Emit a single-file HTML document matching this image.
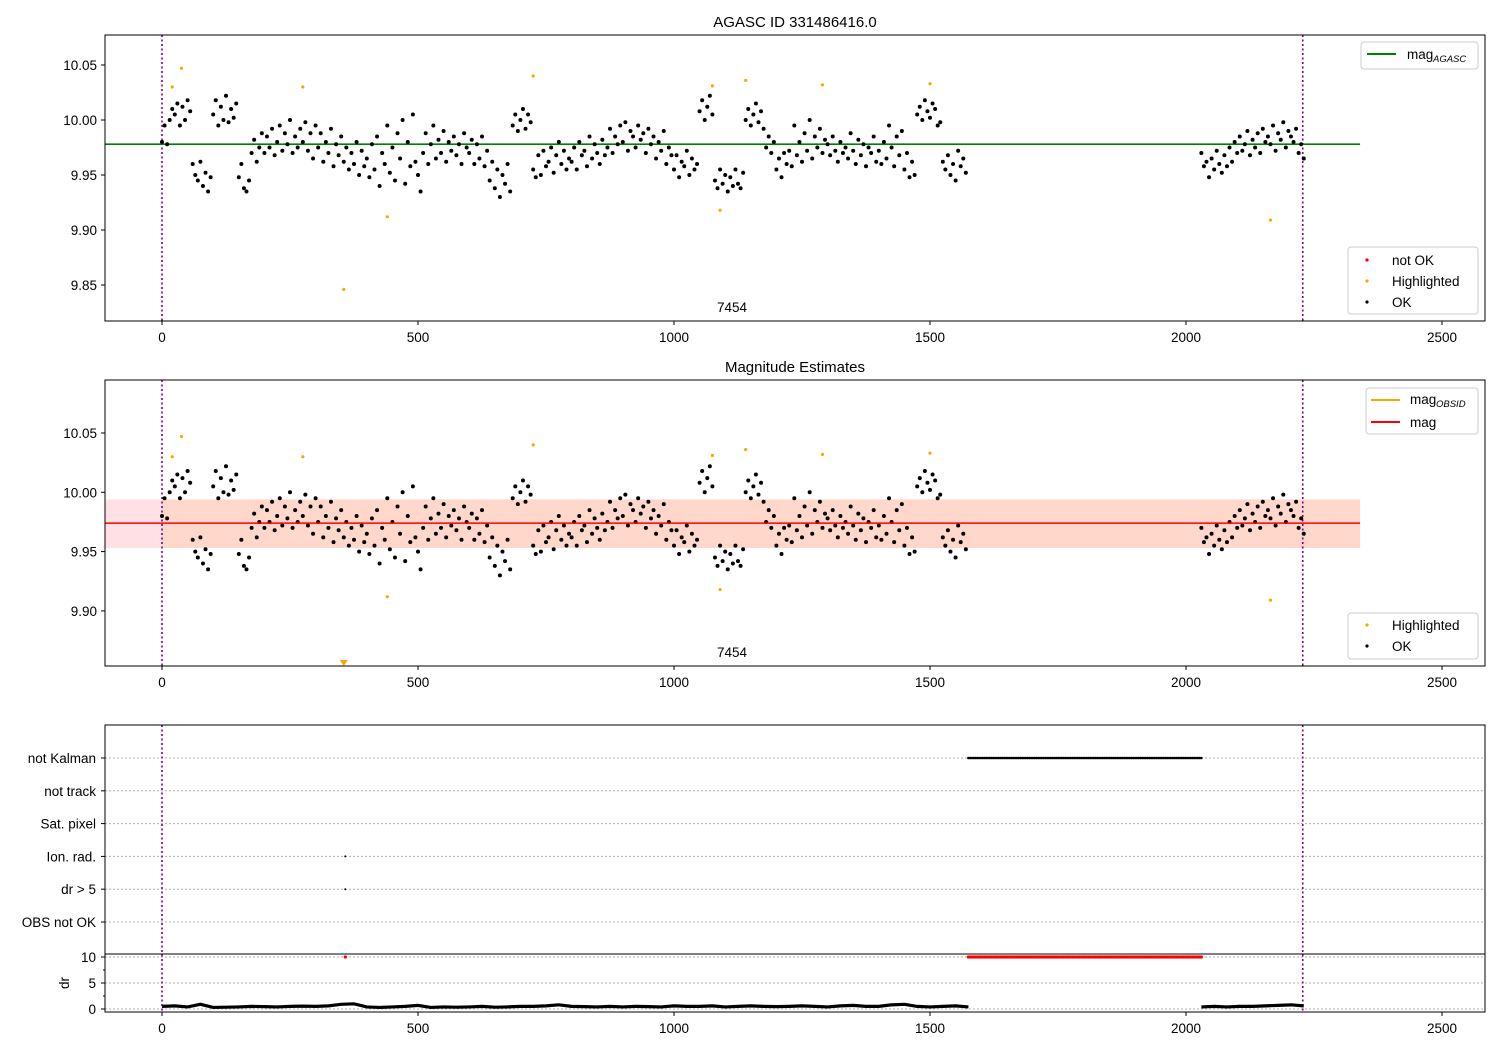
<!DOCTYPE html>
<html><head><meta charset="utf-8">
<style>
html,body{margin:0;padding:0;background:#fff;}
svg{display:block;font-family:"Liberation Sans","DejaVu Sans",sans-serif;}
</style></head>
<body>
<svg id="chart" width="1500" height="1050" viewBox="0 0 1500 1050" xmlns="http://www.w3.org/2000/svg">
<rect width="1500" height="1050" fill="#fff"/>
<g id="g1"></g>
<g id="g2"></g>
<g id="g3"></g>
</svg>
<script>
// ---- data ----
const segStarts = [0, 2030];
const segStep = 5;
const magMilliSeg1 = [
80,95,78,100,110,105,115,95,112,100,118,108,60,50,45,62,40,52,35,48,
105,118,95,112,100,122,98,110,102,115,48,60,38,35,45,70,82,62,75,88,
70,85,75,92,68,80,95,72,88,78,100,70,85,75,92,80,98,72,88,65,
95,75,88,62,80,70,92,58,78,68,85,62,75,55,70,60,80,50,72,58,
65,48,78,55,85,40,70,60,95,52,75,45,88,65,100,42,80,58,105,62,
50,35,70,88,60,78,95,65,82,70,90,62,80,72,85,68,78,60,88,75,
70,82,60,78,65,85,58,72,45,62,38,55,30,50,42,60,35,95,105,90,
100,110,92,105,98,55,48,68,50,72,58,62,75,52,68,80,60,72,55,65,
62,75,55,80,68,72,58,85,65,78,70,60,82,68,75,92,70,85,78,95,
80,98,72,90,85,75,95,82,88,70,92,78,85,65,80,72,90,60,75,68,
55,68,48,62,58,72,50,65,55,60,108,118,100,112,122,105,45,38,55,42,
50,35,48,40,55,42,38,52,100,110,95,105,115,98,108,92,75,85,70,80,
55,65,48,70,60,72,58,95,68,80,62,88,72,100,65,85,75,92,70,82,
78,68,85,72,62,80,70,75,65,88,72,60,82,68,78,58,75,70,85,62,
72,60,80,65,95,75,58,85,68,90,55,70,48,62,50,105,112,100,118,108,
102,115,110,95,98,62,55,68,50,60,45,72,58,65,52];
const magMilliSeg2 = [70,58,62,48,65,55,72,60,52,68,58,75,62,80,70,85,72,78,90,68,82,75,88,70,92,80,85,78,95,72,88,82,98,75,90,85,80,92,70,78,65];
const hlX = [20,38,275,355,440,725,1075,1090,1140,1290,1500,2165];
const hlMag = [10.030,10.047,10.030,9.846,9.912,10.040,10.031,9.918,10.036,10.032,10.033,9.909];
const magAgasc = 9.978;
const magObs = 9.974;
const magBandLo = 9.953, magBandHi = 9.994;
const drStep = 25;
const drSeg1 = [0.5,0.6,0.4,0.9,0.3,0.35,0.4,0.5,0.45,0.4,0.5,0.55,0.5,0.6,0.9,1.0,0.4,0.3,0.4,0.5,0.7,0.3,0.4,0.35,0.4,0.5,0.35,0.4,0.5,0.5,0.6,0.8,0.5,0.45,0.4,0.5,0.4,0.5,0.45,0.4,0.6,0.5,0.5,0.6,0.4,0.5,0.6,0.5,0.45,0.5,0.6,0.5,0.4,0.6,0.7,0.5,0.5,0.8,0.9,0.5,0.4,0.5,0.6,0.4];
const drSeg2 = [0.4,0.5,0.4,0.5,0.5,0.6,0.7,0.8,0.6];
const notKalmanRange = [1575, 2030];
const flagStep = 3.5;
const ionRadX = [358];
const drOver5X = [358];
const rowLabels = ["not Kalman","not track","Sat. pixel","Ion. rad.","dr > 5","OBS not OK"];
const xTicks = [0,500,1000,1500,2000,2500];
const yTicks1 = [9.85,9.90,9.95,10.00,10.05];
const yTicks2 = [9.90,9.95,10.00,10.05];
const drTicks = [0,5,10];
const obsEnd = 2228;
const lineEnd = 2340;

// ---- axes ----
const L=105,R=1485;
const X = x => 162 + x*0.512;
const P1 = {top:35,bot:321};
const Y1 = v => 120 - (v-10)*1100;
const P2 = {top:380,bot:666};
const Y2 = v => 492.3 - (v-10)*1186;
const P3 = {top:725,bot:954};
const YR = i => 758 + i*32.8;
const PD = {top:954,bot:1012};
const YD = v => 1009 - v*5.2;
const FS = 13.5;
const PR = 2;

const NS="http://www.w3.org/2000/svg";
function mk(parent, tag, attrs, name, text){
  const e=document.createElementNS(NS,tag);
  for(const k in attrs) e.setAttribute(k,attrs[k]);
  
  
  if(text!==undefined) e.textContent=text;
  parent.appendChild(e); return e;
}
const allMag=[];
magMilliSeg1.forEach((m,i)=>allMag.push([segStarts[0]+i*segStep, 9.9+m/1000]));
magMilliSeg2.forEach((m,i)=>allMag.push([segStarts[1]+i*segStep, 9.9+m/1000]));

function clip(g,id,p){
  const cp=mk(g,'clipPath',{id:id},'clip');
  mk(cp,'rect',{x:L,y:p.top,width:R-L,height:p.bot-p.top},'clip-rect');
}
function xAxis(g,p){
  xTicks.forEach(t=>{
    mk(g,'line',{x1:X(t),x2:X(t),y1:p.bot,y2:p.bot+4,stroke:'#000'},'x-tick');
    mk(g,'text',{x:X(t),y:p.bot+21,'font-size':FS,'text-anchor':'middle'},'x-tick-label',String(t));
  });
}
function vlines(g,p){
  [0,obsEnd].forEach(v=>mk(g,'line',{x1:X(v),x2:X(v),y1:p.top,y2:p.bot,stroke:'#800080','stroke-width':1.6,'stroke-dasharray':'2,2.5'},'obs-boundary-line'));
}
function frame(g,p){ mk(g,'rect',{x:L,y:p.top,width:R-L,height:p.bot-p.top,fill:'none',stroke:'#000','stroke-width':1},'axes-frame'); }

// ---- panel 1 ----
const g1=document.getElementById('g1');
clip(g1,'c1',P1);
mk(g1,'text',{x:795,y:27,'font-size':15,'text-anchor':'middle'},'chart-title','AGASC ID 331486416.0');
yTicks1.forEach(t=>{
  mk(g1,'line',{x1:L-4,x2:L,y1:Y1(t),y2:Y1(t),stroke:'#000'},'y-tick');
  mk(g1,'text',{x:L-8,y:Y1(t)+5,'font-size':FS,'text-anchor':'end'},'y-tick-label',t.toFixed(2));
});
const d1=mk(g1,'g',{'clip-path':'url(#c1)'},'plot-area');
vlines(d1,P1);
mk(d1,'line',{x1:L,x2:X(lineEnd),y1:Y1(magAgasc),y2:Y1(magAgasc),stroke:'#008000','stroke-width':1.6},'mag-agasc-line');
allMag.forEach(([x,v])=>mk(d1,'circle',{cx:X(x),cy:Y1(v),r:PR,fill:'#000'},'ok-point'));
hlX.forEach((x,i)=>mk(d1,'circle',{cx:X(x),cy:Y1(hlMag[i]),r:1.6,fill:'orange'},'highlighted-point'));
mk(g1,'text',{x:732,y:312,'font-size':FS,'text-anchor':'middle'},'obsid-label','7454');
frame(g1,P1); xAxis(g1,P1);
mk(g1,'rect',{x:1361,y:42,width:117,height:27,rx:3,fill:'#fff',stroke:'#ccc'},'legend-box');
mk(g1,'line',{x1:1367,x2:1396,y1:54,y2:54,stroke:'#008000','stroke-width':2},'legend-agasc-line');
mk(g1,'text',{x:1407,y:59,'font-size':FS},'legend-agasc-label','mag');
mk(g1,'text',{x:1433,y:62,'font-size':9.5,'font-style':'italic'},'legend-agasc-sub','AGASC');
mk(g1,'rect',{x:1348,y:247,width:130,height:67,rx:3,fill:'#fff',stroke:'#ccc'},'legend-box');
[['red','not OK',260],['orange','Highlighted',281],['#000','OK',302]].forEach(([c,t,y])=>{
  mk(g1,'circle',{cx:1367,cy:y,r:1.6,fill:c},'legend-marker');
  mk(g1,'text',{x:1392,y:y+5,'font-size':FS},'legend-label',t);
});

// ---- panel 2 ----
const g2=document.getElementById('g2');
clip(g2,'c2',P2);
mk(g2,'text',{x:795,y:372,'font-size':15,'text-anchor':'middle'},'panel-title','Magnitude Estimates');
yTicks2.forEach(t=>{
  mk(g2,'line',{x1:L-4,x2:L,y1:Y2(t),y2:Y2(t),stroke:'#000'},'y-tick');
  mk(g2,'text',{x:L-8,y:Y2(t)+5,'font-size':FS,'text-anchor':'end'},'y-tick-label',t.toFixed(2));
});
const d2=mk(g2,'g',{'clip-path':'url(#c2)'},'plot-area');
mk(d2,'rect',{x:L,y:Y2(magBandHi),width:X(lineEnd)-L,height:Y2(magBandLo)-Y2(magBandHi),fill:'#ffe0e4'},'mag-band-red');
mk(d2,'rect',{x:X(0),y:Y2(magBandHi),width:X(lineEnd)-X(0),height:Y2(magBandLo)-Y2(magBandHi),fill:'#ffd6c4',opacity:0.8},'mag-band-orange');
vlines(d2,P2);
allMag.forEach(([x,v])=>mk(d2,'circle',{cx:X(x),cy:Y2(v),r:PR,fill:'#000'},'ok-point'));
hlX.forEach((x,i)=>{
  if(Y2(hlMag[i])>P2.bot){
    mk(d2,'path',{d:`M${X(x)-4},${P2.bot-6} L${X(x)+4},${P2.bot-6} L${X(x)},${P2.bot} Z`,fill:'orange'},'highlighted-offscale-marker');
  } else mk(d2,'circle',{cx:X(x),cy:Y2(hlMag[i]),r:1.6,fill:'orange'},'highlighted-point');
});
mk(d2,'line',{x1:L,x2:X(lineEnd),y1:Y2(magObs),y2:Y2(magObs),stroke:'red','stroke-width':1.6},'mag-line');
mk(g2,'text',{x:732,y:657,'font-size':FS,'text-anchor':'middle'},'obsid-label','7454');
frame(g2,P2); xAxis(g2,P2);
mk(g2,'rect',{x:1366,y:388,width:112,height:46,rx:3,fill:'#fff',stroke:'#ccc'},'legend-box');
mk(g2,'line',{x1:1371,x2:1400,y1:400,y2:400,stroke:'orange','stroke-width':2},'legend-obsid-line');
mk(g2,'text',{x:1410,y:404,'font-size':FS},'legend-obsid-label','mag');
mk(g2,'text',{x:1436,y:407,'font-size':9.5,'font-style':'italic'},'legend-obsid-sub','OBSID');
mk(g2,'line',{x1:1371,x2:1400,y1:422,y2:422,stroke:'red','stroke-width':2},'legend-mag-line');
mk(g2,'text',{x:1410,y:427,'font-size':FS},'legend-mag-label','mag');
mk(g2,'rect',{x:1348,y:613,width:130,height:46,rx:3,fill:'#fff',stroke:'#ccc'},'legend-box');
[['orange','Highlighted',625],['#000','OK',646]].forEach(([c,t,y])=>{
  mk(g2,'circle',{cx:1367,cy:y,r:1.6,fill:c},'legend-marker');
  mk(g2,'text',{x:1392,y:y+5,'font-size':FS},'legend-label',t);
});

// ---- panel 3 ----
const g3=document.getElementById('g3');
rowLabels.forEach((t,i)=>{
  mk(g3,'line',{x1:L,x2:R,y1:YR(i),y2:YR(i),stroke:'#b0b0b0','stroke-dasharray':'2,2'},'row-gridline');
  mk(g3,'line',{x1:L-4,x2:L,y1:YR(i),y2:YR(i),stroke:'#000'},'y-tick');
  mk(g3,'text',{x:L-9,y:YR(i)+5,'font-size':FS,'text-anchor':'end'},'row-label',t);
});
drTicks.forEach(t=>{
  mk(g3,'line',{x1:L,x2:R,y1:YD(t),y2:YD(t),stroke:'#b0b0b0','stroke-dasharray':'2,2'},'dr-gridline');
  mk(g3,'line',{x1:L-4,x2:L,y1:YD(t),y2:YD(t),stroke:'#000'},'y-tick');
  mk(g3,'text',{x:L-9,y:YD(t)+5,'font-size':FS,'text-anchor':'end'},'dr-tick-label',String(t));
});
[2.5,7.5].forEach(t=>mk(g3,'line',{x1:L-2,x2:L,y1:YD(t),y2:YD(t),stroke:'#000'},'minor-tick'));
mk(g3,'text',{x:0,y:0,'font-size':FS,'text-anchor':'middle',transform:`translate(69,983) rotate(-90)`},'dr-axis-title','dr');
vlines(g3,{top:P3.top,bot:PD.bot});
for(let x=notKalmanRange[0];x<=notKalmanRange[1];x+=flagStep){
  mk(g3,'circle',{cx:X(x),cy:YR(0),r:1.3,fill:'#000'},'not-kalman-point');
  mk(g3,'circle',{cx:X(x),cy:YD(10),r:1.6,fill:'red'},'dr-notok-point');
}
ionRadX.forEach(x=>mk(g3,'circle',{cx:X(x),cy:YR(3),r:1,fill:'#000'},'ion-rad-point'));
drOver5X.forEach(x=>mk(g3,'circle',{cx:X(x),cy:YR(4),r:1,fill:'#000'},'dr-over-5-point'));
mk(g3,'circle',{cx:X(358),cy:YD(10),r:1.6,fill:'red'},'dr-notok-point');
[drSeg1.map((v,i)=>[segStarts[0]+i*drStep,v]), drSeg2.map((v,i)=>[segStarts[1]+i*drStep,v])].forEach(seg=>{
  mk(g3,'polyline',{points:seg.map(([x,v])=>X(x)+','+YD(v)).join(' '),fill:'none',stroke:'#000','stroke-width':3.2},'dr-series');
});
mk(g3,'rect',{x:L,y:P3.top,width:R-L,height:PD.bot-P3.top,fill:'none',stroke:'#000'},'axes-frame');
mk(g3,'line',{x1:L,x2:R,y1:PD.top,y2:PD.top,stroke:'#000'},'panel-divider');
xAxis(g3,PD);
</script>
</body></html>
